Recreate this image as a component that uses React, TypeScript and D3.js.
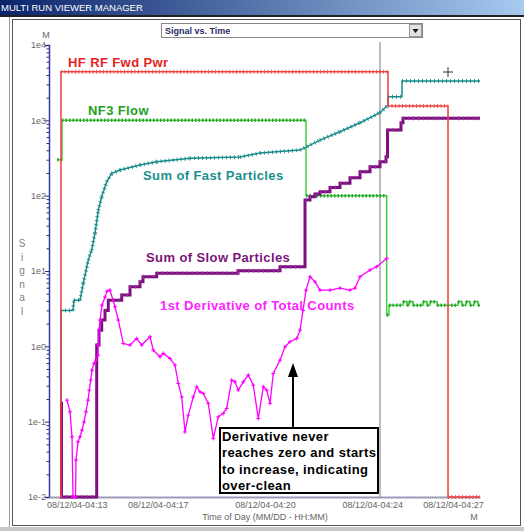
import React, { useEffect, useRef } from "react";
import * as d3 from "d3";

// times are minutes after 04:00 on 08/12/04
const xStart = 12.97;
const xEnd = 28.933;
const tickTimes = [13.995, 17.0, 20.97, 24.94, 27.93];
const yTicks = [0.01, 0.1, 1, 10, 100, 1000, 10000];

const hfTime = [13.4, 13.414, 25.526, 27.748, 28.933];
const hfPwr = [0.01, 4400, 1550, 0.01, 0.01];

const nf3Time = [13.266, 13.451, 22.489, 25.477, 25.563, 26.081, 26.23, 26.303, 26.451, 26.822, 26.97, 27.081, 27.341, 28.118, 28.266, 28.414, 28.563, 28.711, 28.859, 28.933];
const nf3Flow = [300, 1000, 100, 2.6, 3.5, 3.9, 3.5, 3.9, 3.5, 3.9, 3.5, 3.9, 3.5, 3.9, 3.5, 3.9, 3.5, 3.9, 3.5, 3.5];

const fastTime = [13.414, 13.414, 13.859, 13.896, 14.118, 14.24, 14.426, 14.551, 14.674, 14.796, 14.922, 15.107, 15.292, 15.6, 16.34, 16.959, 18.192, 20.044, 20.785, 22.267, 23.007, 23.748, 24.489, 25.229, 25.526, 25.526, 26.044, 26.044, 28.933];
const fastSum = [0.01, 3, 3, 4.1, 4.1, 6.9, 14, 19, 31.9, 64, 96.7, 153, 198, 219, 255, 282, 313, 326, 368, 403, 547, 706, 929, 1262, 1597, 2058, 2058, 3326, 3326];

const slowTime = [13.414, 13.433, 14.737, 14.822, 14.922, 15.044, 15.166, 15.663, 15.97, 16.34, 16.451, 16.959, 19.97, 21.526, 22.452, 22.637, 22.822, 23.007, 23.378, 23.748, 24.118, 24.489, 24.859, 25.229, 25.452, 25.508, 26.007, 26.081, 28.933];
const slowSum = [0.176, 0.01, 1.04, 1.64, 2.23, 3, 4.1, 4.79, 6.17, 7.19, 8.38, 9.3, 10.07, 11.4, 87.4, 96.7, 105, 113, 128, 146, 173, 208, 242, 282, 329, 743, 929, 1064, 1064];

const derivTime = [
  13.637, 13.748, 13.822, 13.859, 13.951, 13.97, 14.044, 14.118, 14.192, 14.266,
  14.34, 14.414, 14.463, 14.514, 14.563, 14.637, 14.711, 14.785, 14.796, 14.822,
  14.859, 14.933, 15.044, 15.118, 15.229, 15.414, 15.537, 15.722, 15.97, 16.218,
  16.403, 16.711, 16.833, 17.081, 17.203, 17.451, 17.637, 17.759, 17.885, 18.007,
  18.129, 18.314, 18.44, 18.563, 18.685, 18.87, 19.055, 19.24, 19.426, 19.551,
  19.737, 19.859, 19.981, 20.166, 20.351, 20.537, 20.722, 20.907, 21.033, 21.155,
  21.277, 21.526, 21.711, 21.896, 22.144, 22.267, 22.378, 22.489, 22.637, 22.822,
  23.007, 23.378, 23.748, 24.118, 24.304, 24.489, 24.859, 25.107, 25.477,
];
const derivCounts = [
  0.193, 0.135, 0.063, 0.01, 0.01, 0.031, 0.054, 0.063, 0.077, 0.099,
  0.135, 0.193, 0.262, 0.356, 0.483, 0.593, 0.656, 0.764, 1.04, 1.64,
  2.23, 3.52, 4.5, 5.4, 5.57, 3.35, 2.23, 1.09, 1.04, 1.27,
  1.04, 1.34, 0.89, 0.726, 0.805, 0.69, 0.562, 0.321, 0.213, 0.073,
  0.122, 0.213, 0.29, 0.249, 0.237, 0.175, 0.06, 0.116, 0.129, 0.15,
  0.356, 0.338, 0.262, 0.338, 0.415, 0.305, 0.11, 0.29, 0.262, 0.175,
  0.436, 0.656, 0.985, 1.15, 1.27, 1.64, 3.0, 5.57, 8.38, 7.19,
  5.57, 5.57, 5.93, 5.57, 5.93, 8.38, 10.3, 11.4, 14.7,
];

const cursorTime = 25.229;
const noteLines = ["Derivative never", "reaches zero and starts", "to increase, indicating", "over-clean"];

const W = 524;
const H = 531;
const plot = { left: 49, right: 480, top: 45, bottom: 497 };
const font = "'Liberation Sans', Arial, sans-serif";

export default function App() {
  const ref = useRef<SVGSVGElement>(null);

  useEffect(() => {
    const svg = d3.select(ref.current);
    svg.selectAll("*").remove();

    const base = new Date(2004, 7, 12, 4, 0, 0).getTime();
    const toDate = (m: number) => new Date(base + m * 60000);

    const x = d3.scaleTime().domain([toDate(xStart), toDate(xEnd)]).range([plot.left, plot.right]);
    const y = d3.scaleLog().domain([0.01, 10000]).range([plot.bottom, plot.top]);

    // window chrome
    const defs = svg.append("defs");
    const g = defs.append("linearGradient").attr("id", "tbar");
    g.append("stop").attr("offset", "0%").attr("stop-color", "#0a246a");
    g.append("stop").attr("offset", "100%").attr("stop-color", "#a6caf0");
    svg.append("rect").attr("width", W).attr("height", H).attr("fill", "#fff");
    svg.append("rect").attr("width", W).attr("height", 15).attr("fill", "url(#tbar)");
    svg.append("text").attr("x", 1).attr("y", 11).attr("fill", "#fff")
      .style("font", `9.5px ${font}`).text("MULTI RUN VIEWER MANAGER");
    svg.append("rect").attr("y", 15).attr("width", W).attr("height", 2).attr("fill", "#222");
    svg.append("line").attr("x1", 9.5).attr("x2", 9.5).attr("y1", 17).attr("y2", 527).attr("stroke", "#999");
    svg.append("rect").attr("x", 12.5).attr("y", 19.5).attr("width", 508).attr("height", 506)
      .attr("fill", "none").attr("stroke", "#555");
    svg.append("rect").attr("y", 527).attr("width", W).attr("height", 4).attr("fill", "#c8c8c8");

    // dropdown
    svg.append("rect").attr("x", 161.5).attr("y", 23.5).attr("width", 261).attr("height", 14)
      .attr("fill", "#fff").attr("stroke", "#888");
    svg.append("rect").attr("x", 409.5).attr("y", 24.5).attr("width", 12).attr("height", 12)
      .attr("fill", "#e4e2dc").attr("stroke", "#999");
    svg.append("path").attr("d", "M412.5,29 L418.5,29 L415.5,33 Z").attr("fill", "#111");
    svg.append("text").attr("x", 165).attr("y", 34).attr("fill", "#2b2b66")
      .style("font", `bold 9px ${font}`).text("Signal vs. Time");

    // cursor line
    svg.append("line").attr("x1", x(toDate(cursorTime))).attr("x2", x(toDate(cursorTime)))
      .attr("y1", 42).attr("y2", plot.bottom).attr("stroke", "#a8a8a8").attr("stroke-width", 1.5);

    // axes
    const yAxis = svg.append("g").attr("transform", `translate(${plot.left},0)`)
      .call(d3.axisLeft(y).tickValues(yTicks).tickSize(4)
        .tickFormat((d) => "1e" + Math.round(Math.log10(+d))));
    const minor: number[] = [];
    for (let e = -2; e < 4; e++) for (let k = 2; k < 10; k++) minor.push(k * Math.pow(10, e));
    svg.append("g").attr("transform", `translate(${plot.left},0)`)
      .call(d3.axisLeft(y).tickValues(minor).tickSize(2.5).tickFormat(() => ""))
      .call((s) => s.select(".domain").remove())
      .selectAll("line").attr("stroke", "#2a2a8a");
    yAxis.select(".domain").attr("stroke", "#3a3aa0").attr("stroke-width", 1.5);
    yAxis.selectAll("line").attr("stroke", "#2a2a8a");
    yAxis.selectAll("text").attr("fill", "#666").style("font", `9px ${font}`).attr("x", -3);

    const fmt = d3.timeFormat("%m/%d/%y-%H:%M");
    const xAxis = svg.append("g").attr("transform", `translate(0,${plot.bottom})`)
      .call(d3.axisBottom(x).tickValues(tickTimes.map(toDate)).tickSize(0)
        .tickFormat((d) => fmt(d as Date)).tickSizeOuter(0));
    xAxis.select(".domain").attr("stroke", "#9c9cb8").attr("stroke-width", 2);
    xAxis.selectAll("text").attr("fill", "#666").style("font", `9px ${font}`).attr("dy", "0.9em");

    svg.append("text").attr("x", 265).attr("y", 520).attr("text-anchor", "middle").attr("fill", "#666")
      .style("font", `9px ${font}`).text("Time of Day  (MM/DD - HH:MM)");
    svg.append("text").attr("x", 474).attr("y", 520).attr("text-anchor", "middle").attr("fill", "#666")
      .style("font", `9px ${font}`).text("M");
    svg.append("text").attr("x", 46).attr("y", 38).attr("text-anchor", "middle").attr("fill", "#666")
      .style("font", `9px ${font}`).text("M");
    "Signal".split("").forEach((c, i) => {
      svg.append("text").attr("x", 22).attr("y", 247 + i * 13.5).attr("text-anchor", "middle")
        .attr("fill", "#808080").style("font", `10px ${font}`).text(c);
    });

    // series
    const pts = (t: number[], v: number[]) => t.map((m, i) => [m, v[i]] as [number, number]);
    const line = (curve: d3.CurveFactory) =>
      d3.line<[number, number]>().x((d) => x(toDate(d[0]))).y((d) => y(d[1])).curve(curve);

    // marker overlay only along the sampled (time-advancing) stretches
    const markPath = (data: [number, number][], step: boolean) => {
      let p = "";
      for (let i = 0; i + 1 < data.length; i++) {
        const a = data[i], b = data[i + 1];
        if (b[0] === a[0]) continue;
        const x0 = x(toDate(a[0])), x1 = x(toDate(b[0]));
        const y0 = y(a[1]), y1 = step ? y(a[1]) : y(b[1]);
        p += `M${x0},${y0}L${x1},${y1}`;
      }
      return p;
    };

    const draw = (data: [number, number][], step: boolean, color: string, w: number,
      mark: string, mw: number, dash: string) => {
      svg.append("path").datum(data).attr("d", line(step ? d3.curveStepAfter : d3.curveLinear))
        .attr("fill", "none").attr("stroke", color).attr("stroke-width", w);
      if (dash) {
        svg.append("path").attr("d", markPath(data, step)).attr("fill", "none")
          .attr("stroke", mark).attr("stroke-width", mw).attr("stroke-dasharray", dash).attr("opacity", 0.85);
      }
    };

    draw(pts(nf3Time, nf3Flow), true, "#44cc44", 1.5, "#1f9a1f", 3.5, "1.5 2");
    draw(pts(fastTime, fastSum), false, "#178a8a", 1.5, "#178a8a", 4, "1 3");
    draw(pts(slowTime, slowSum), true, "#7e0f80", 3, "#9a3a9a", 4, "1 4");
    draw(pts(hfTime, hfPwr), true, "#f03c3c", 1.5, "#f04a4a", 4, "1 2.5");

    const deriv = pts(derivTime, derivCounts);
    draw(deriv, false, "#ff00ff", 1.3, "", 0, "");
    svg.append("g").selectAll("path").data(deriv).join("path")
      .attr("d", (d) => {
        const px = x(toDate(d[0])), py = y(d[1]);
        return `M${px - 2},${py}H${px + 2}M${px},${py - 2}V${py + 2}`;
      })
      .attr("stroke", "#ff00ff").attr("stroke-width", 1);

    // crosshair marker
    svg.append("path").attr("d", "M443,72H453M448,67V77").attr("stroke", "#333").attr("stroke-width", 1);

    // series labels
    const label = (t: string, lx: number, ly: number, c: string) =>
      svg.append("text").attr("x", lx).attr("y", ly).attr("fill", c)
        .style("font", `bold 13px ${font}`).style("letter-spacing", "0.4px").text(t);
    label("HF RF Fwd Pwr", 68, 67, "#e62222");
    label("NF3 Flow", 88, 115, "#22a022");
    label("Sum of Fast Particles", 143, 180, "#1a9090");
    label("Sum of Slow Particles", 146, 262, "#7a147a");
    label("1st Derivative of Total Counts", 160, 310, "#ff22ff");

    // annotation
    svg.append("line").attr("x1", 293).attr("x2", 293).attr("y1", 428).attr("y2", 374)
      .attr("stroke", "#000").attr("stroke-width", 2);
    svg.append("path").attr("d", "M293,363 L288,377 L298,377 Z").attr("fill", "#000");
    svg.append("rect").attr("x", 220).attr("y", 428).attr("width", 158).attr("height", 65)
      .attr("fill", "#fff").attr("stroke", "#000").attr("stroke-width", 2);
    noteLines.forEach((t, i) => {
      svg.append("text").attr("x", 222).attr("y", 441 + i * 16.3).attr("fill", "#000")
        .style("font", `bold 13px ${font}`).style("letter-spacing", "0.4px").text(t);
    });
  }, []);

  return (
    <svg ref={ref} width={W} height={H} style={{ position: "absolute", left: 0, top: 0 }} />
  );
}
